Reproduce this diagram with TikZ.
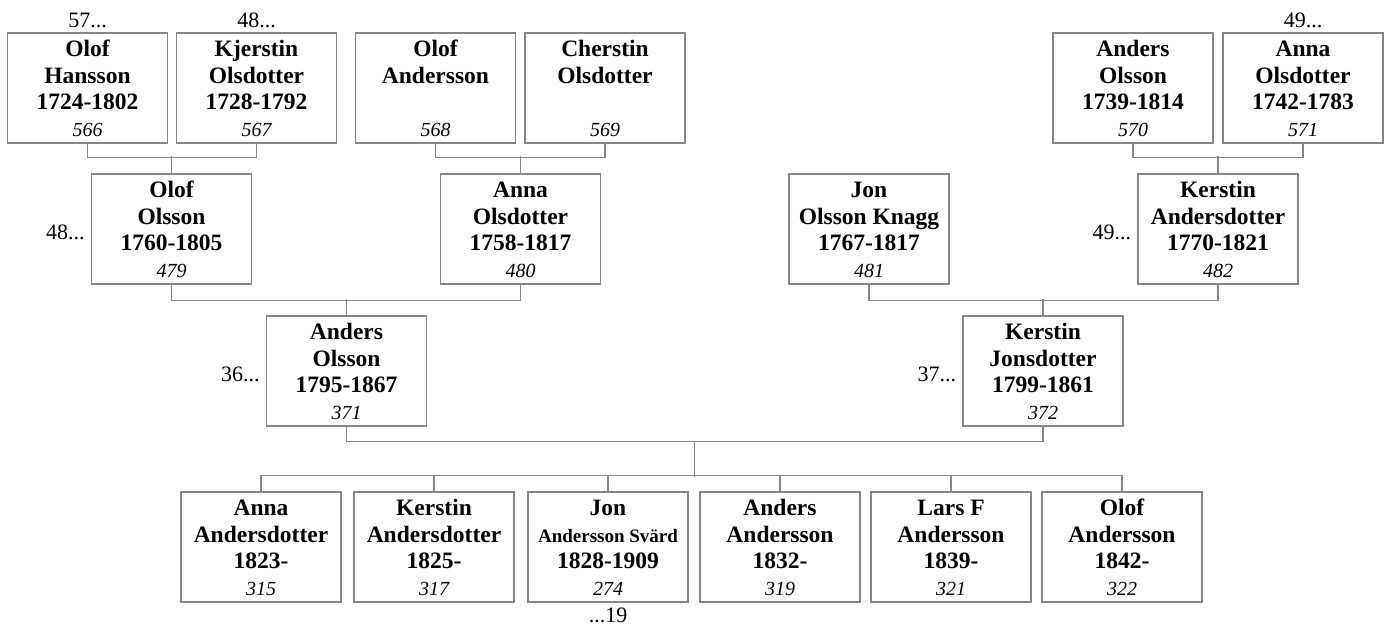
\documentclass[tikz,border=0pt]{standalone}
\usepackage{fontspec}
\setmainfont{Liberation Serif}
\usetikzlibrary{calc}
\definecolor{linjegra}{RGB}{135,135,135}

% en ruta per person: position, namn, nummer
\newcommand{\pbox}[3]{%
  \node[box] (p#3) at (#1) {};
  \node[namn] at ([yshift=-5.45pt]p#3.north) {\strut #2};
  \node[nr] at ([yshift=7pt]p#3.south) {#3};
}

\begin{document}
\begin{tikzpicture}[
        x=1pt, y=-1pt,
        box/.style={draw=linjegra, line width=1.2pt, minimum width=160pt, minimum height=110pt, inner sep=0pt},
        namn/.style={anchor=north, align=center, inner sep=0pt, font=\fontsize{23.5}{26.5}\selectfont\bfseries},
        nr/.style={anchor=base, inner sep=0pt, font=\fontsize{20}{24}\selectfont\itshape},
        ref/.style={inner sep=0pt, font=\fontsize{22}{24}\selectfont},
        link/.style={draw=linjegra, line width=1.2pt}
    ]
        \useasboundingbox (0,0) rectangle (1386,625);

        % Rad 1
        \pbox{87.5,88}{Olof\\Hansson\\1724-1802}{566}
        \pbox{256.5,88}{Kjerstin\\Olsdotter\\1728-1792}{567}
        \pbox{435.5,88}{Olof\\Andersson}{568}
        \pbox{605,88}{Cherstin\\Olsdotter}{569}
        \pbox{1133,88}{Anders\\Olsson\\1739-1814}{570}
        \pbox{1303,88}{Anna\\Olsdotter\\1742-1783}{571}

        % Rad 2
        \pbox{171.5,229}{Olof\\Olsson\\1760-1805}{479}
        \pbox{520.5,229}{Anna\\Olsdotter\\1758-1817}{480}
        \pbox{869,229}{Jon\\Olsson Knagg\\1767-1817}{481}
        \pbox{1218,229}{Kerstin\\Andersdotter\\1770-1821}{482}

        % Rad 3
        \pbox{346.5,371}{Anders\\Olsson\\1795-1867}{371}
        \pbox{1043,371}{Kerstin\\Jonsdotter\\1799-1861}{372}

        % Barn
        \pbox{261,547}{Anna\\Andersdotter\\1823-}{315}
        \pbox{434,547}{Kerstin\\Andersdotter\\1825-}{317}
        \pbox{608,547}{Jon\\{\fontsize{19}{26.5}\selectfont Andersson Svärd}\\1828-1909}{274}
        \pbox{780,547}{Anders\\Andersson\\1832-}{319}
        \pbox{951,547}{Lars F\\Andersson\\1839-}{321}
        \pbox{1122,547}{Olof\\Andersson\\1842-}{322}

        % Hänvisningar
        \node[ref, anchor=base] (h566) at ([yshift=5pt]p566.north) {57...};
        \node[ref, anchor=base] (h567) at ([yshift=5pt]p567.north) {48...};
        \node[ref, anchor=base] (h571) at ([yshift=5pt]p571.north) {49...};
        \node[ref, anchor=base east] (h479) at ([xshift=-6pt,yshift=-10pt]p479.west) {48...};
        \node[ref, anchor=base east] (h482) at ([xshift=-6pt,yshift=-10pt]p482.west) {49...};
        \node[ref, anchor=base east] (h371) at ([xshift=-6pt,yshift=-10pt]p371.west) {36...};
        \node[ref, anchor=base east] (h372) at ([xshift=-6pt,yshift=-10pt]p372.west) {37...};
        \node[ref, anchor=base] (h274) at ([yshift=-20pt]p274.south) {...19};

        % Föräldrar
        \draw[link] (p566.south) -- ++(0,14) -| (p567.south);
        \draw[link] (p479.north) -- ++(0,-17);
        \draw[link] (p568.south) -- ++(0,14) -| (p569.south);
        \draw[link] (p480.north) -- ++(0,-17);
        \draw[link] (p570.south) -- ++(0,14) -| (p571.south);
        \draw[link] (p482.north) -- ++(0,-17);
        \draw[link] (p479.south) -- ++(0,16) -| (p480.south);
        \draw[link] (p371.north) -- ++(0,-16);
        \draw[link] (p481.south) -- ++(0,16) -| (p482.south);
        \draw[link] (p372.north) -- ++(0,-16);

        % Familj
        \draw[link] (p371.south) -- ++(0,15) -| (p372.south);
        \coordinate (fam) at ($(p371.south)!0.5!(p372.south)+(0,15)$);
        \draw[link] (fam) -- ++(0,35);
        \draw[link] (p315.north) -- ++(0,-16) -| (p322.north);
        \foreach \c in {317,274,319,321}
            \draw[link] (p\c.north) -- ++(0,-16);
    \end{tikzpicture}
\end{document}
